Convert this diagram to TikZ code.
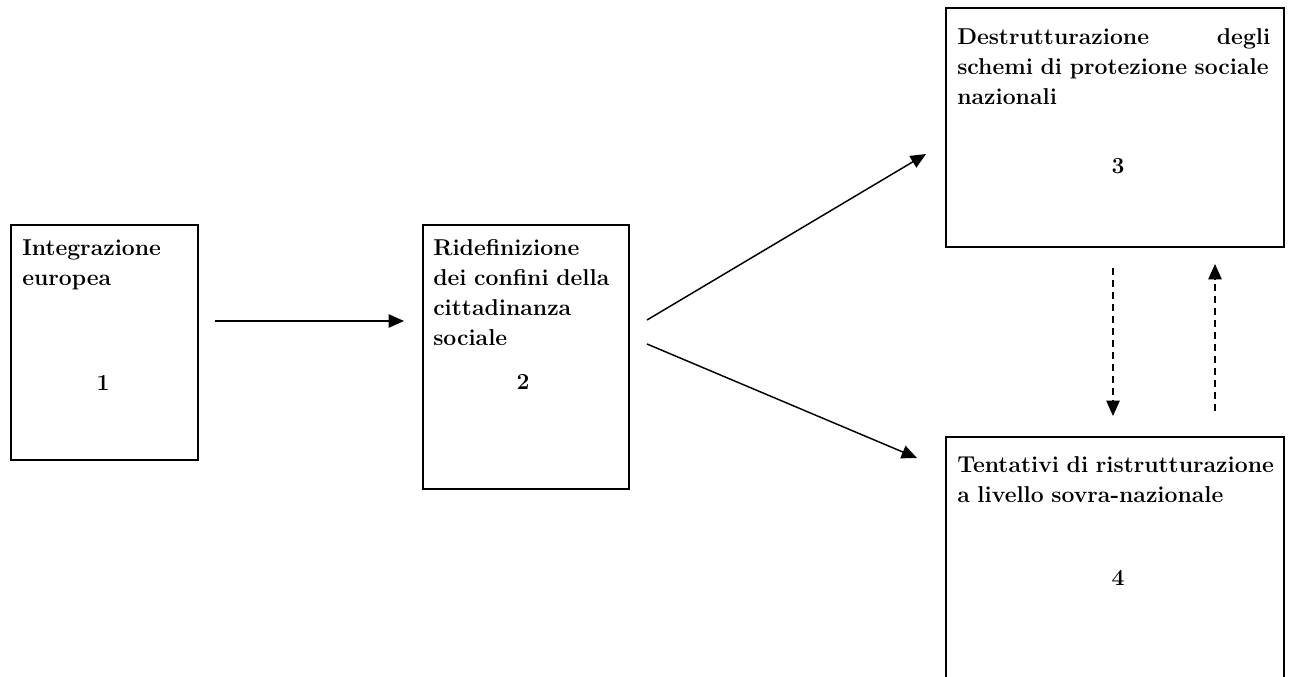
\documentclass[tikz,border=0pt]{standalone}
\usetikzlibrary{arrows.meta}
\begin{document}
\begin{tikzpicture}[x=0.75pt,y=-0.75pt,
  boxstyle/.style={draw,line width=1.4pt,anchor=north west,inner sep=0pt},
  txt/.style={anchor=north west,inner sep=0pt,align=left,font=\fontsize{17.2}{22.5}\selectfont\bfseries},
  num/.style={inner sep=0pt,font=\fontsize{17.2}{22.5}\selectfont\bfseries},
  arr/.style={line width=1.1pt,-{Triangle[length=11.5pt,width=10pt]}},
  darr/.style={arr,dash pattern=on 5.25pt off 3.75pt}]
\useasboundingbox (0,0) rectangle (1291,677);
% boxes
\node[boxstyle,minimum width=187*0.75pt,minimum height=235*0.75pt] (b1) at (10,224) {};
\node[boxstyle,minimum width=206*0.75pt,minimum height=264*0.75pt] (b2) at (422,224) {};
\node[boxstyle,minimum width=338*0.75pt,minimum height=239*0.75pt] (b3) at (945,7) {};
\node[boxstyle,minimum width=338*0.75pt,minimum height=260*0.75pt] (b4) at (945,436) {};
% texts
\node[txt,text width=175*0.75pt] (t1) at (22,240) {Integrazione\\europea};
\node[num] (n1) at (103,383) {1};
\node[txt,text width=192*0.75pt] (t2) at (433,239) {Ridefinizione\\dei confini della\\cittadinanza\\sociale};
\node[num] (n2) at (523,382) {2};
\node[txt,text width=313*0.75pt] (t3) at (957,28) {Destrutturazione\hfill degli\\schemi di protezione sociale\\nazionali};
\node[num] (n3) at (1118,166) {3};
\node[txt,text width=318*0.75pt] (t4) at (957,456) {Tentativi di ristrutturazione\\a livello sovra-nazionale};
\node[num] (n4) at (1118,578) {4};
% connector ends
\coordinate (a1s) at (215,321);
\coordinate (a1e) at (404,321);
\coordinate (a2s) at (647,320);
\coordinate (a2e) at (926,154);
\coordinate (a3s) at (647,344);
\coordinate (a3e) at (917,458);
\coordinate (d1s) at (1113,268);
\coordinate (d1e) at (1113,416);
\coordinate (d2s) at (1215,411);
\coordinate (d2e) at (1215,264);
\draw[arr] (a1s) -- (a1e);
\draw[arr] (a2s) -- (a2e);
\draw[arr] (a3s) -- (a3e);
\draw[darr] (d1s) -- (d1e);
\draw[darr] (d2s) -- (d2e);
\end{tikzpicture}
\end{document}
